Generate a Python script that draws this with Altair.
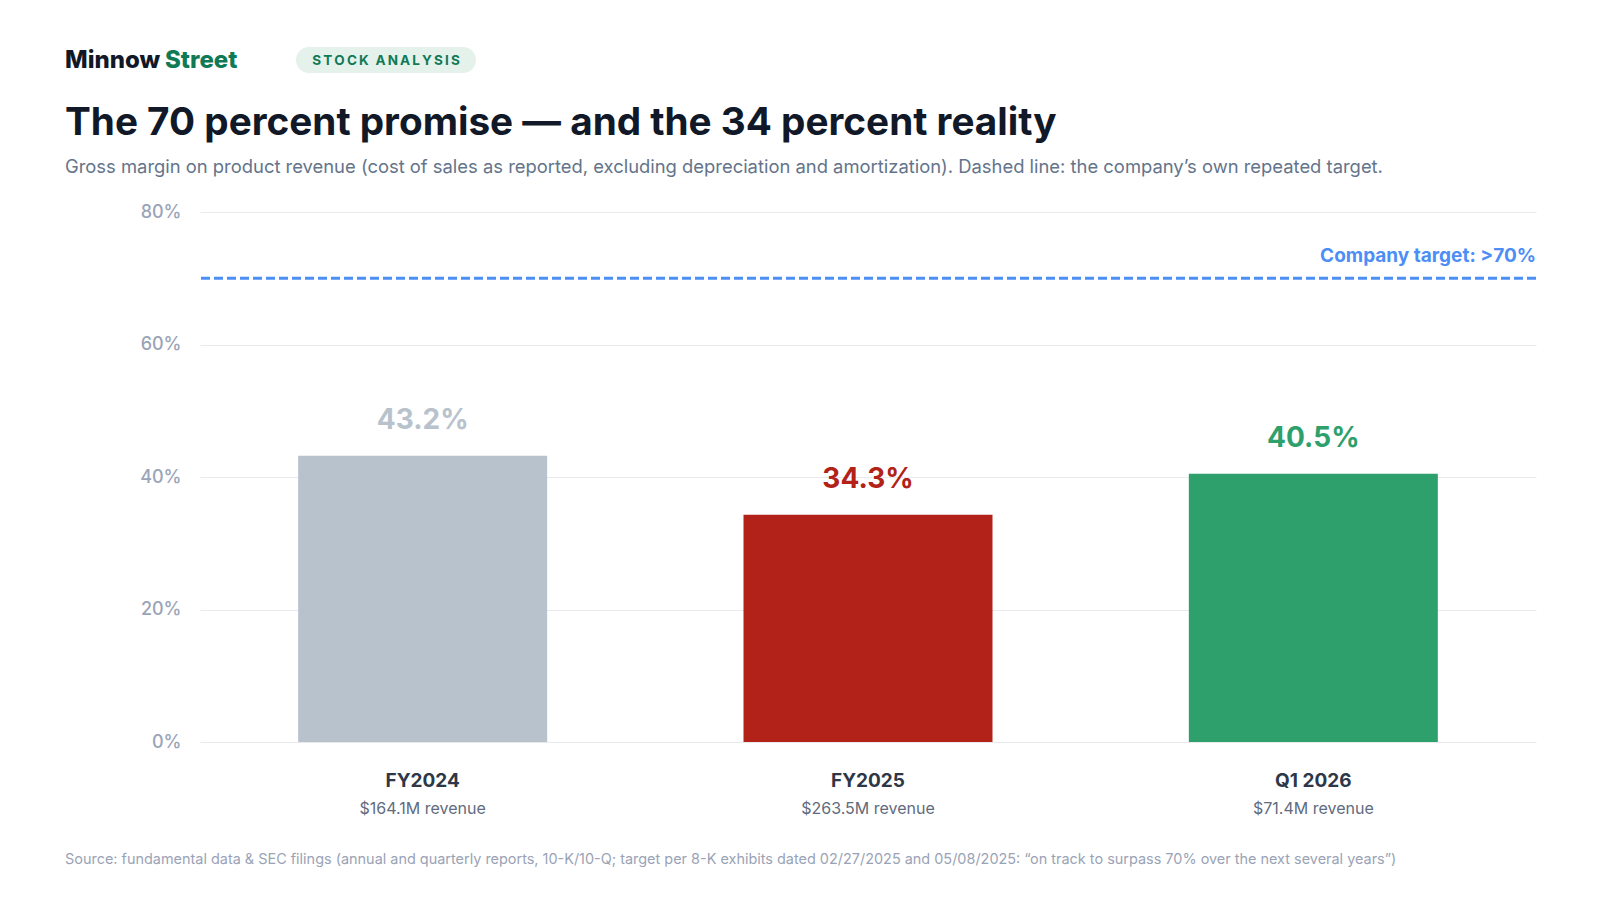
import altair as alt
import pandas as pd

# ---- data ----
categories = ["FY2024", "FY2025", "Q1 2026"]
margins = [43.2, 34.3, 40.5]
revenues = ["$164.1M revenue", "$263.5M revenue", "$71.4M revenue"]
bar_colors = ["#b8c2cc", "#b22218", "#2ea06c"]
target = [70]
y_ticks = [0, 20, 40, 60, 80]

brand_a = "Minnow"
brand_b = "Street"
tag = "STOCK ANALYSIS"
title = "The 70 percent promise \u2014 and the 34 percent reality"
subtitle = ("Gross margin on product revenue (cost of sales as reported, excluding depreciation "
            "and amortization). Dashed line: the company\u2019s own repeated target.")
source = ("Source: fundamental data & SEC filings (annual and quarterly reports, 10-K/10-Q; target per 8-K "
          "exhibits dated 02/27/2025 and 05/08/2025: \u201con track to surpass 70% over the next several years\u201d)")

FONT = "Inter"
W, H = 1336, 530

df = pd.DataFrame({
    "period": categories,
    "margin": margins,
    "revenue": revenues,
    "label": [f"{m:.1f}%" for m in margins],
})
tdf = pd.DataFrame({"target": target, "tlabel": [f"Company target: >{t}%" for t in target]})

x = alt.X("period:N", sort=categories, axis=None,
          scale=alt.Scale(paddingInner=0, paddingOuter=0))
y = alt.Y("margin:Q",
          scale=alt.Scale(domain=[0, 80], nice=False),
          axis=alt.Axis(values=y_ticks, labelExpr="datum.value + '%'", title=None,
                        domain=False, ticks=False, grid=True, gridColor="#e8eaee",
                        gridWidth=1, labelFontSize=18, labelColor="#9aa4b7",
                        labelFontWeight=500,
                        labelPadding=19, labelFont=FONT))
color = alt.Color("period:N", scale=alt.Scale(domain=categories, range=bar_colors), legend=None)

bars = alt.Chart(df).mark_bar(size=249).encode(x=x, y=y, color=color)

bar_labels = alt.Chart(df).mark_text(
    dy=-27, baseline="alphabetic", fontSize=28, fontWeight="bold", font=FONT
).encode(x=x, y="margin:Q", text="label:N", color=color)

target_rule = alt.Chart(tdf).mark_rule(
    strokeDash=[9, 4], strokeWidth=3, color="#4d8ef6"
).encode(y="target:Q")

target_text = alt.Chart(tdf).mark_text(
    align="right", baseline="alphabetic", dy=-16, fontSize=19, fontWeight="bold",
    font=FONT, color="#4d8ef6"
).encode(x=alt.value(W), y="target:Q", text="tlabel:N")

x_names = alt.Chart(df).mark_text(
    baseline="alphabetic", fontSize=19, fontWeight="bold", font=FONT, color="#2d3748"
).encode(x=x, y=alt.value(575), text="period:N")

x_rev = alt.Chart(df).mark_text(
    baseline="alphabetic", fontSize=16, font=FONT, color="#5f6b7e"
).encode(x=x, y=alt.value(602), text="revenue:N")


def label(text, xv, yv, **kw):
    d = pd.DataFrame({"t": [text]})
    return alt.Chart(d).mark_text(font=FONT, baseline="alphabetic", align="left", **kw).encode(
        x=alt.value(xv), y=alt.value(yv), text="t:N")


brand1 = label(brand_a, -135, -144, fontSize=24, fontWeight=800, color="#111827")
brand2 = label(brand_b, -35, -144, fontSize=24, fontWeight=800, color="#0f7a55")

pill = alt.Chart(pd.DataFrame({"t": [tag]})).mark_rect(
    cornerRadius=13, color="#e4f2eb"
).encode(x=alt.value(96), x2=alt.value(276), y=alt.value(-165), y2=alt.value(-139))

spaced_tag = "\u2002".join("\u2009".join(list(w)) for w in tag.split(" "))
pill_text = alt.Chart(pd.DataFrame({"t": [spaced_tag]})).mark_text(
    font=FONT, fontSize=13.5, fontWeight="bold", color="#0f7a55", align="center", baseline="middle"
).encode(x=alt.value(186), y=alt.value(-151), text="t:N")

title_t = label(title, -135, -77, fontSize=38.7, fontWeight="bold", color="#111827")
subtitle_t = label(subtitle, -135, -39, fontSize=18.4, color="#64748b")
source_t = label(source, -135, 652, fontSize=14.45, color="#9aa3b6")

chart = alt.layer(
    bars, bar_labels, target_rule, target_text, x_names, x_rev,
    brand1, brand2, pill, pill_text, title_t, subtitle_t, source_t
).properties(
    width=W, height=H,
    autosize=alt.AutoSizeParams(type="none"),
    padding={"left": 192, "top": 204, "right": 50, "bottom": 150},
    background="white",
).configure_view(stroke=None)

chart.save("out.html", embed_options={"renderer": "svg", "actions": False})
